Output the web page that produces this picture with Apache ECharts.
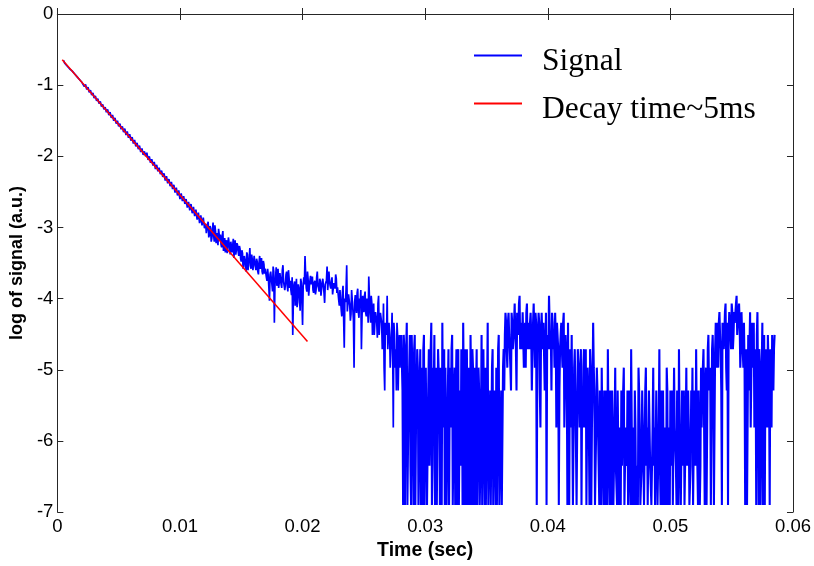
<!DOCTYPE html>
<html><head><meta charset="utf-8">
<script src="https://cdn.jsdelivr.net/npm/echarts@6/dist/echarts.min.js"></script>
<style>html,body{margin:0;padding:0;background:#fff}#c{width:814px;height:566px}</style>
</head><body><div id="c"></div>
<script>
// sampling step of the signal (s); "mid" arrays hold the samples half a step later
const dt = 0.0001;
// start time of each signal segment (s)
const segStarts = [0.0005, 0.0121, 0.0201, 0.0281, 0.0341, 0.0365, 0.0411, 0.0441, 0.0526, 0.0538, 0.0560];
// time from which the signal sits on the quantised noise floor (drawn with a heavier stroke)
const tailStart = 0.0281;

// log of signal
const segDecay = [
 -0.65,-0.69,-0.69,-0.73,-0.72,-0.77,-0.76,-0.80,-0.80,-0.84,-0.84,-0.88,-0.88,-0.92,-0.92,-0.96,
 -0.95,-1.02,-0.99,-1.06,-1.03,-1.10,-1.07,-1.14,-1.11,-1.18,-1.15,-1.22,-1.19,-1.26,-1.23,-1.30,-1.27,-1.34,-1.31,-1.38,
 -1.34,-1.42,-1.38,-1.46,-1.42,-1.50,-1.46,-1.54,-1.50,-1.58,
 -1.54,-1.62,-1.58,-1.66,-1.61,-1.70,-1.65,-1.74,-1.69,-1.78,
 -1.73,-1.82,-1.77,-1.86,-1.81,-1.90,-1.85,-1.94,-1.89,-1.98,
 -1.93,-2.00,-1.95,-2.05,-2.00,-2.09,-2.04,-2.13,-2.08,-2.18,
 -2.12,-2.21,-2.16,-2.25,-2.20,-2.29,-2.24,-2.34,-2.28,-2.38,
 -2.32,-2.42,-2.36,-2.46,-2.40,-2.51,-2.44,-2.55,-2.48,-2.60,
 -2.52,-2.63,-2.56,-2.67,-2.60,-2.72,-2.64,-2.76,-2.67,-2.80,
 -2.71,-2.84,-2.75,-2.89,-2.79,-2.94,-2.83,-2.97,-2.86,-3.01
];
const segKnee = [
 -2.95,-3.06,-2.92,-3.10,-3.01,-3.15,-2.93,-3.20,-3.05,-3.12,-3.25,-3.02,
 -3.10,-3.28,-3.05,-3.22,-3.35,-3.18,-3.30,-3.12,-3.38,-3.20,-3.26,-3.43,-3.18,-3.32,-3.25,-3.40,
 -3.30,-3.48,-3.36,-3.55,-3.42,-3.62,-3.38,-3.50,-3.29,-3.58,-3.45,-3.52,
 -3.42,-3.60,-3.48,-3.66,-3.40,-3.55,-3.62,-3.47,-3.65,
 -3.60,-3.75,-3.68,-4.03,-3.62,-3.80,-3.55,-4.34,-3.70,-3.82,-3.58,-3.77,-3.66,-3.85,-3.53,-3.74,-3.80,-3.62,-3.90,-3.71,
 -3.75,-3.95,-4.51,-3.80,-4.10,-3.72,-4.05,-3.85,-4.17,-3.78,-4.37
];
const segKneeMid = [
 -3.08,-2.96,-3.14,-2.98,-3.20,-3.04,-3.12,-2.97,-3.22,-3.08,-3.02,-3.18,
 -3.24,-3.12,-3.33,-3.15,-3.22,-3.36,-3.14,-3.28,-3.20,-3.35,-3.16,-3.28,-3.38,-3.22,-3.34,-3.26,
 -3.44,-3.32,-3.58,-3.40,-3.52,-3.35,-3.60,-3.44,-3.54,-3.38,-3.60,-3.40,
 -3.55,-3.44,-3.62,-3.50,-3.58,-3.43,-3.66,-3.52,-3.58,
 -3.70,-3.58,-3.84,-3.66,-3.72,-3.90,-3.62,-3.78,-3.56,-3.70,-3.85,-3.64,-3.80,-3.60,-3.76,-3.88,-3.66,-3.82,-3.60,-3.85,
 -3.88,-3.70,-4.02,-3.76,-3.92,-4.12,-3.80,-3.98,-3.72,-4.05,-3.82
];
const segPlateau = [
 -3.70,-3.40,-3.85,-3.62,-3.96,-3.75,
 -3.80,-3.69,-3.92,-3.75,-3.88,-3.62,-3.85,-3.72,-3.96,-3.78,-3.70,-4.06,-3.82,-3.55,-3.90,-3.76,-3.86,-3.70,-3.95,-3.80,-3.66,-3.92,
 -3.85,-4.10,-3.90,-4.25,-3.82,-4.69,-4.05,-3.53,-4.20,-3.95,-4.31,-3.88,-4.15,-4.97,
 -3.95,-4.20,-3.86,-4.27,-4.07,-4.71,-3.96,-4.19,-3.90,-4.25,-4.07,-3.69,
 -4.20,-3.96,-4.51,-4.07,-4.34,-4.19,-4.55,-3.96,-4.34,-4.20,-4.71,-4.07,-5.29,
 -4.34,-3.96,-4.71,-4.51,-4.97,-4.20,-5.81,-4.51,-4.71,-4.34,-5.29,-4.51,-4.97
];
const segPlateauMid = [
 -3.80,-3.66,-3.90,-3.72,-3.84,-3.68,
 -3.74,-3.88,-3.78,-3.94,-3.70,-3.82,-3.90,-3.76,-3.86,-3.72,-3.92,-3.80,-3.74,-3.88,-3.62,-3.82,-3.76,-3.94,-3.78,-3.86,-3.72,-3.84,
 -4.02,-3.88,-4.15,-3.92,-4.28,-4.00,-3.86,-4.18,-3.94,-4.10,-4.22,-3.90,-4.30,-4.05,
 -4.10,-3.92,-4.19,-4.00,-3.88,-4.25,-4.07,-3.96,-4.20,-4.00,-4.34,-3.96,
 -4.34,-4.07,-4.20,-4.51,-4.19,-4.34,-4.07,-4.51,-4.20,-4.34,-4.51,-4.97,-4.34,
 -4.51,-4.71,-4.34,-4.97,-4.51,-4.71,-4.34,-4.97,-5.29,-4.51,-4.71,-4.97,-4.51
];
const segDropA = [
 -4.51,-6.9,-4.71,-5.29,-4.34,-6.9,-4.97,-6.35,-4.51,-5.81,
 -4.71,-6.9,-5.29,-4.97,-6.9,-4.71,-5.81,-6.9,-4.51,-5.29,
 -4.97,-6.9,-4.71,-5.81,-4.34,-6.35,-5.29,-6.9,-4.97,-5.81,
 -4.71,-6.9,-5.29,-4.34,-5.81,-6.9,-4.97,-6.9,-4.71,-5.29,
 -5.81,-4.51,-6.9,-4.97,-5.29,-6.9,-4.71,-5.81,-6.35,-4.97,
 -4.34,-6.9,-5.29,-4.71,-6.9,-5.81,-4.51,-6.9,-4.97,-5.81
];
const segDropAMid = [
 -5.29,-4.51,-6.9,-4.71,-6.9,-5.29,-4.51,-6.9,-4.97,-6.9,
 -4.51,-5.81,-4.71,-6.9,-5.29,-6.9,-4.97,-4.71,-6.9,-4.97,
 -6.9,-5.29,-6.35,-4.71,-6.9,-4.97,-4.51,-5.29,-6.9,-4.71,
 -5.29,-4.97,-6.9,-5.81,-4.71,-4.97,-6.9,-5.29,-6.9,-4.97,
 -4.71,-6.9,-5.29,-6.9,-4.71,-4.97,-6.9,-5.29,-4.71,-6.9,
 -5.29,-4.71,-6.9,-5.81,-4.97,-6.9,-5.29,-4.71,-6.9,-4.97
];
const segDropB = [
 -6.9,-4.71,-6.9,-5.29,-6.9,-4.51,-6.9,-5.81,-4.97,-6.9,-4.34,-6.9,
 -5.29,-6.9,-4.71,-6.9,-5.81,-4.97,-6.9,-4.51,-6.9,-5.29,-6.9,-4.71
];
const segDropBMid = [
 -5.29,-6.9,-4.97,-6.9,-5.81,-6.9,-4.71,-6.9,-6.9,-5.29,-6.9,-5.81,
 -6.9,-4.97,-6.9,-5.29,-6.9,-6.9,-4.71,-6.9,-5.81,-6.9,-4.97,-5.29
];
const segBumpA = [
 -4.51,-4.34,-4.97,-4.20,-4.71,-5.29,-4.34,-4.51,-4.07,-4.71,
 -4.20,-4.51,-3.96,-4.34,-4.71,-4.20,-4.51,-4.97,-4.07,-4.34,
 -4.71,-4.20,-5.29,-4.34,-4.51,-4.20,-6.9,-4.51,-4.34,-5.81,
 -4.20,-4.71,-4.34,-4.97,-6.9,-4.51,-3.96,-4.71,-5.29,-4.34,
 -4.51,-4.20,-5.81,-4.34,-6.9,-4.71
];
const segBumpAMid = [
 -4.20,-4.71,-4.34,-4.51,-4.97,-4.20,-4.71,-4.34,-4.51,-5.29,
 -4.34,-4.07,-4.71,-4.51,-4.19,-4.97,-4.34,-4.20,-4.71,-4.51,
 -4.34,-4.51,-4.71,-4.07,-4.97,-4.34,-4.71,-4.20,-5.29,-4.51,
 -4.51,-4.34,-5.29,-4.20,-4.51,-4.71,-4.34,-4.51,-4.20,-4.71,
 -4.97,-4.51,-4.34,-4.71,-5.29,-4.51
];
const segFallA = [
 -4.34,-4.97,-4.20,-5.29,-4.51,-6.9,-4.34,-4.71,-5.81,-4.51,
 -6.9,-4.71,-5.29,-6.9,-4.97,-5.81,-4.71,-5.29,-4.97,-5.81,
 -4.71,-6.9,-5.29,-6.9,-4.97,-5.81,-4.34,-5.29,-6.9,-4.97
];
const segFallAMid = [
 -4.71,-4.34,-5.81,-4.51,-4.97,-4.34,-6.9,-5.29,-4.51,-6.9,
 -4.97,-5.29,-6.9,-4.71,-5.29,-4.97,-6.9,-5.81,-4.71,-5.29,
 -6.9,-4.97,-5.81,-4.71,-6.9,-5.29,-4.97,-6.9,-5.81,-5.29
];
const segLow = [
 -5.29,-6.9,-5.81,-4.97,-6.35,-5.29,-6.9,-5.81,-4.71,-6.35,
 -5.29,-6.9,-5.81,-6.9,-4.97,-6.35,-5.29,-6.9,-5.81,-5.29,
 -6.35,-4.97,-6.9,-5.81,-5.29,-6.9,-6.35,-4.71,-6.9,-5.81,
 -5.29,-6.9,-6.35,-4.97,-5.81,-6.9,-5.29,-6.35,-6.9,-4.97,
 -5.81,-6.9,-5.29,-6.35,-6.9,-4.97,-5.81,-6.9,-5.29,-6.35,
 -4.71,-6.9,-5.81,-5.29,-6.9,-6.35,-4.97,-6.9,-5.81,-5.29,
 -6.35,-6.9,-4.97,-5.81,-6.9,-5.29,-4.71,-6.35,-6.9,-5.81,
 -5.29,-6.9,-4.97,-6.35,-5.81,-6.9,-5.29,-4.97,-6.9,-5.81,
 -4.71,-6.35,-5.29,-6.9,-4.97
];
const segLowMid = [
 -6.35,-5.29,-6.9,-5.81,-6.9,-6.35,-5.29,-6.9,-5.81,-6.9,
 -6.35,-5.29,-6.9,-5.81,-6.35,-6.9,-5.29,-5.81,-6.9,-6.35,
 -5.29,-6.9,-5.81,-6.35,-6.9,-5.29,-6.9,-5.81,-6.35,-6.9,
 -5.81,-6.35,-6.9,-5.29,-6.9,-6.35,-5.81,-6.9,-5.29,-6.35,
 -6.9,-5.29,-6.35,-6.9,-5.81,-6.35,-6.9,-5.29,-6.9,-5.81,
 -6.35,-5.29,-6.9,-6.35,-5.81,-6.9,-5.29,-6.35,-6.9,-5.81,
 -5.29,-6.9,-5.81,-6.35,-5.29,-6.9,-5.81,-6.9,-5.29,-6.35,
 -6.9,-5.81,-6.35,-5.29,-6.9,-6.35,-5.81,-6.9,-5.29,-6.35,
 -5.81,-6.9,-5.29,-6.35,-5.81
];
const segRise = [-5.29,-4.71,-6.9,-4.97,-5.81,-4.51,-5.29,-6.9,-4.71,-4.97,-6.9,-4.34];
const segRiseMid = [-4.97,-5.81,-5.29,-6.9,-4.71,-5.29,-4.97,-5.81,-4.51,-6.9,-4.71,-4.97];
const segBumpB = [
 -4.34,-4.97,-4.19,-4.71,-6.9,-4.34,-4.51,-4.07,-5.29,-6.9,
 -4.19,-4.51,-4.07,-4.71,-4.19,-4.34,-3.96,-4.51,-4.07,-4.97,-4.19,-4.71
];
const segBumpBMid = [
 -4.71,-4.34,-4.51,-5.29,-4.34,-4.71,-4.19,-4.97,-4.34,-4.51,
 -4.34,-4.71,-4.19,-4.51,-4.34,-4.07,-4.51,-4.19,-4.34,-4.71,-4.51,-4.97
];
const segEnd = [
 -4.34,-6.9,-4.71,-6.9,-5.29,-4.19,-5.81,-4.71,-4.34,-5.29,
 -6.9,-4.19,-6.9,-4.97,-6.9,-4.34,-5.29,-6.9,-4.71,-5.81,
 -4.51,-6.9,-4.97,-4.51,-5.29,-4.51
];
const segEndMid = [
 -4.97,-5.29,-6.9,-4.51,-4.71,-5.81,-4.34,-4.97,-5.81,-4.71,
 -4.51,-5.29,-4.71,-6.9,-4.97,-6.9,-4.51,-4.97,-5.29,-4.51,
 -5.29,-4.71,-5.81,-4.97,-4.71
];
const signalSegments = [segDecay, segKnee, segPlateau, segDropA, segDropB, segBumpA, segFallA, segLow, segRise, segBumpB, segEnd];
const midSegments = [null, segKneeMid, segPlateauMid, segDropAMid, segDropBMid, segBumpAMid, segFallAMid, segLowMid, segRiseMid, segBumpBMid, segEndMid];

// fitted decay line (tau ~ 5 ms), end points
const decayTimes = [0.0004, 0.0204];
const decayValues = [-0.644, -4.604];

// axes
const xTickLabels = ['0', '0.01', '0.02', '0.03', '0.04', '0.05', '0.06'];
const yTickLabels = ['-7', '-6', '-5', '-4', '-3', '-2', '-1', '0'];
const legendNames = ['Signal', 'Decay time~5ms'];

const signalData = [];
signalSegments.forEach((seg, s) => {
  seg.forEach((v, i) => signalData.push([Math.round((segStarts[s] + i * dt) * 1e6) / 1e6, v]));
  const mid = midSegments[s];
  if (mid) mid.forEach((v, i) => signalData.push([Math.round((segStarts[s] + (i + 0.5) * dt) * 1e6) / 1e6, v]));
});
signalData.sort((a, b) => a[0] - b[0]);
const splitAt = signalData.findIndex(p => p[0] >= tailStart);
const signalHead = signalData.slice(0, splitAt);
const signalTail = signalData.slice(splitAt - 1);
const decayData = decayTimes.map((t, i) => [t, decayValues[i]]);

const axisCol = '#262626';
const tickFont = { fontFamily: 'Liberation Sans, Arial, sans-serif', fontSize: 18.5, color: '#000' };
// legend key: a 2px line sitting in the upper part of a 48x15 box
const legendIcon = 'path://M0,0 L48,0 L48,2 L0,2 Z M0,15 L0.01,15 L0.01,14.99 Z';

const chart = echarts.init(document.getElementById('c'), null, { renderer: 'canvas' });
chart.setOption({
  animation: false,
  backgroundColor: '#fff',
  grid: { left: 57, right: 19, top: 14, bottom: 51, containLabel: false },
  legend: {
    orient: 'vertical', left: 474, top: 44, padding: 0, itemGap: 12,
    icon: legendIcon, itemWidth: 48, itemHeight: 15,
    data: legendNames,
    textStyle: { fontFamily: 'Liberation Serif, Times New Roman, serif', fontSize: 31.5, color: '#000', lineHeight: 36, padding: [0, 0, 0, 15] },
    selectedMode: false
  },
  xAxis: [{
    type: 'value', min: 0, max: 0.06, interval: 0.01,
    name: 'Time (sec)', nameLocation: 'middle', nameGap: 26,
    nameTextStyle: { fontFamily: 'Liberation Sans, Arial, sans-serif', fontWeight: 'bold', fontSize: 19.5, color: '#000' },
    axisLine: { show: true, lineStyle: { color: axisCol, width: 1 } },
    axisTick: { show: true, inside: true, length: 6, lineStyle: { color: axisCol } },
    axisLabel: Object.assign({ margin: 5, formatter: v => xTickLabels[Math.round(v / 0.01)] }, tickFont),
    splitLine: { show: false }
  }, {
    type: 'value', min: 0, max: 0.06, interval: 0.01, position: 'top',
    axisLine: { show: true, lineStyle: { color: axisCol, width: 1 } },
    axisTick: { show: true, inside: true, length: 6, lineStyle: { color: axisCol } },
    axisLabel: { show: false }, splitLine: { show: false }
  }],
  yAxis: [{
    type: 'value', min: -7, max: 0, interval: 1,
    name: 'log of signal (a.u.)', nameLocation: 'middle', nameGap: 30,
    nameTextStyle: { fontFamily: 'Liberation Sans, Arial, sans-serif', fontWeight: 'bold', fontSize: 18, color: '#000' },
    axisLine: { show: true, onZero: false, lineStyle: { color: axisCol, width: 1 } },
    axisTick: { show: true, inside: true, length: 6, lineStyle: { color: axisCol } },
    axisLabel: Object.assign({ margin: 4, formatter: v => yTickLabels[Math.round(v + 7)] }, tickFont),
    splitLine: { show: false }
  }, {
    type: 'value', min: -7, max: 0, interval: 1, position: 'right',
    axisLine: { show: true, onZero: false, lineStyle: { color: axisCol, width: 1 } },
    axisTick: { show: true, inside: true, length: 6, lineStyle: { color: axisCol } },
    axisLabel: { show: false }, splitLine: { show: false }
  }],
  series: [{
    name: 'Signal', type: 'line', data: signalHead, showSymbol: false, symbol: 'none',
    lineStyle: { color: '#0000ff', width: 1.7 }, itemStyle: { color: '#0000ff' },
    sampling: null, silent: true
  }, {
    name: 'Signal', type: 'line', data: signalTail, showSymbol: false, symbol: 'none',
    lineStyle: { color: '#0000ff', width: 2.1 }, itemStyle: { color: '#0000ff' },
    sampling: null, silent: true
  }, {
    name: 'Decay time~5ms', type: 'line', data: decayData, showSymbol: false, symbol: 'none',
    lineStyle: { color: '#ff0000', width: 1.5 }, itemStyle: { color: '#ff0000' }, silent: true
  }]
});
</script>
</body></html>
